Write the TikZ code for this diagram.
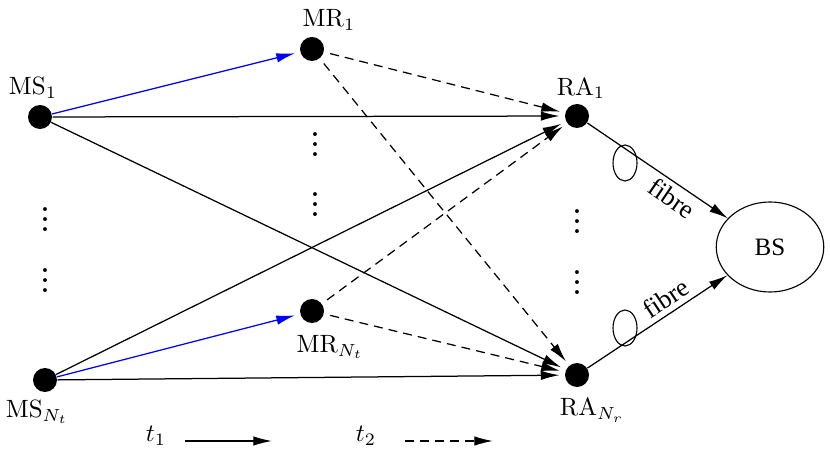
\documentclass[tikz,border=0pt]{standalone}
\usepackage{fontspec}
\newfontfamily\tms{Liberation Serif}
\usetikzlibrary{arrows.meta,shapes.geometric}
\begin{document}
\begin{tikzpicture}[x=0.4pt,y=-0.4pt,
  dotnode/.style={circle,fill=black,inner sep=0pt,minimum size=9.6pt},
  lbl/.style={inner sep=0pt},
  link/.style={line width=0.5pt,-{Latex[length=7.5pt,width=3.8pt]},shorten >=2pt},
  blink/.style={link,blue},
  dlink/.style={link,dash pattern=on 3.6pt off 2.4pt,shorten <=2.5pt},
  vdotsnode/.style={inner sep=0pt,font=\bfseries},
  loopnode/.style={ellipse,draw,line width=0.45pt,minimum width=9.6pt,minimum height=14.4pt,inner sep=0pt},
  fibrelbl/.style={sloped,font=\tms\fontsize{10.5}{12}\selectfont,inner sep=2pt}
]
\useasboundingbox (0,0) rectangle (830,451);
% nodes
\node[dotnode] (ms1) at (40,117) {};
\node[dotnode] (mr1) at (312,49) {};
\node[dotnode] (ra1) at (577,116) {};
\node[dotnode] (msn) at (45,380) {};
\node[dotnode] (mrn) at (312,311) {};
\node[dotnode] (ran) at (577,375) {};
\node[ellipse,draw,line width=0.45pt,minimum width=43pt,minimum height=36pt,inner sep=0pt,font=\tms\fontsize{10}{12}\selectfont] (bs) at (770,247) {BS};
% labels
\node[lbl] (lms1) at (33,88) {MS$_1$};
\node[lbl] (lmr1) at (329,20) {MR$_1$};
\node[lbl] (lra1) at (581,88) {RA$_1$};
\node[lbl] (lmsn) at (37,412) {MS$_{N_t}$};
\node[lbl] (lmrn) at (330,347) {MR$_{N_t}$};
\node[lbl] (lran) at (592,410) {RA$_{N_r}$};
% vertical dots
\node[vdotsnode] (v1) at (45,212) {$\vdots$};
\node[vdotsnode] (v2) at (45,273) {$\vdots$};
\node[vdotsnode] (v3) at (315,137) {$\vdots$};
\node[vdotsnode] (v4) at (315,197) {$\vdots$};
\node[vdotsnode] (v5) at (577,214) {$\vdots$};
\node[vdotsnode] (v6) at (577,275) {$\vdots$};
% links
\draw[blink] (ms1) -- (mr1);
\draw[link] (ms1) -- (ra1);
\draw[link] (ms1) -- (ran);
\draw[link] (msn) -- (ra1);
\draw[blink] (msn) -- (mrn);
\draw[link] (msn) -- (ran);
\draw[dlink] (mr1) -- (ra1);
\draw[dlink] (mr1) -- (ran);
\draw[dlink] (mrn) -- (ra1);
\draw[dlink] (mrn) -- (ran);
% fibre links
\draw[link,shorten >=0pt] (ra1) -- node[pos=0.66,below,fibrelbl]{fibre} (bs);
\draw[link,shorten >=0pt] (ran) -- node[pos=0.62,above,fibrelbl]{fibre} (bs);
\node[loopnode] (loop1) at (625,163) {};
\node[loopnode] (loop2) at (625,328) {};
% legend
\node[lbl] (t1) at (156,436) {$t_1$};
\coordinate (a1s) at (185,441);
\coordinate (a1e) at (272,441);
\draw[link,shorten >=0pt] (a1s) -- (a1e);
\node[lbl] (t2) at (366,436) {$t_2$};
\coordinate (a2s) at (405,441);
\coordinate (a2e) at (493,441);
\draw[link,dash pattern=on 3.6pt off 2.4pt,shorten >=0pt] (a2s) -- (a2e);
\end{tikzpicture}
\end{document}
